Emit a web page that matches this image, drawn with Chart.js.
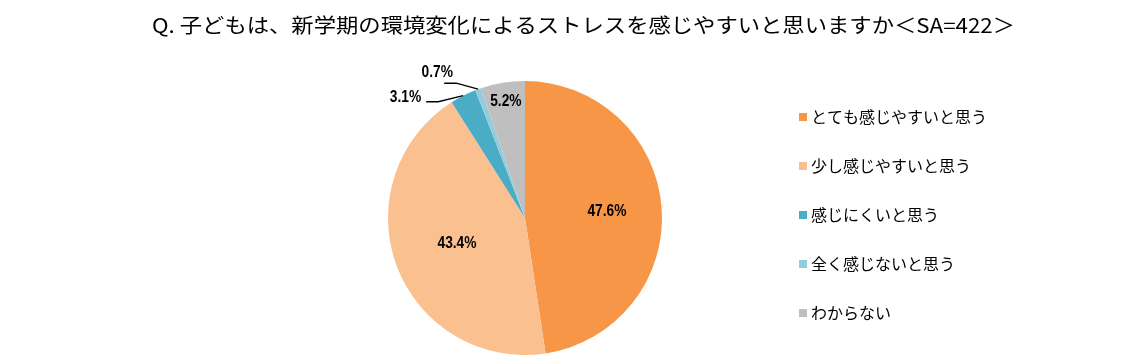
<!DOCTYPE html>
<html>
<head>
<meta charset="utf-8">
<script src="https://cdn.jsdelivr.net/npm/chart.js@4"></script>
<style>
  html, body { margin: 0; padding: 0; background: #fff; }
  #wrap { width: 1132px; height: 364px; position: relative; }
</style>
</head>
<body>
<div id="wrap"><canvas id="pie"></canvas></div>
<script>
const titleText = "Q. 子どもは、新学期の環境変化によるストレスを感じやすいと思いますか＜SA=422＞";
const categories = ["とても感じやすいと思う", "少し感じやすいと思う", "感じにくいと思う", "全く感じないと思う", "わからない"];
const shares = [47.6, 43.4, 3.1, 0.7, 5.2];
const colors = ["#F79646", "#FAC090", "#4BACC6", "#93CDDD", "#BFBFBF"];

const JP = '"Noto Sans CJK JP", "Noto Sans", sans-serif';

// label placement: inside labels use a radius fraction, outside ones get a leader line
const labelStyle = [
  { inside: 0.6 },
  { inside: 0.53 },
  { elbow: [-25, 6], text: [-42, 2], align: "right" },
  { elbow: [-22, -6], text: [-41, -17], align: "center" },
  { inside: 0.86 }
];

const titlePlugin = {
  id: "titleText",
  afterDraw(chart) {
    const ctx = chart.ctx;
    ctx.save();
    ctx.font = `20px ${JP}`;
    ctx.fillStyle = "#000";
    ctx.textBaseline = "middle";
    const w = ctx.measureText(titleText).width;
    const target = 863;
    ctx.translate(152, 25);
    ctx.scale(target / w, 1);
    ctx.textAlign = "left";
    ctx.fillText(titleText, 0, 0);
    ctx.restore();
  }
};

const legendPlugin = {
  id: "sideLegend",
  afterDraw(chart) {
    const ctx = chart.ctx;
    ctx.save();
    ctx.font = `16px ${JP}`;
    ctx.textBaseline = "middle";
    categories.forEach((c, i) => {
      const y = 117 + i * 49;
      ctx.fillStyle = colors[i];
      ctx.fillRect(799, y - 4, 8, 8);
      ctx.fillStyle = "#000";
      ctx.fillText(c, 811, y);
    });
    ctx.restore();
  }
};

// draw text a little narrower, like the condensed font of the original
function narrowText(ctx, txt, x, y, align) {
  const sx = 0.86;
  const w = ctx.measureText(txt).width * sx;
  let left = x;
  if (align === "center") left = x - w / 2;
  else if (align === "right") left = x - w;
  ctx.save();
  ctx.translate(left, y);
  ctx.scale(sx, 1);
  ctx.textAlign = "left";
  ctx.fillText(txt, 0, 0);
  ctx.restore();
}

const valuePlugin = {
  id: "values",
  afterDatasetsDraw(chart) {
    const ctx = chart.ctx;
    const meta = chart.getDatasetMeta(0);
    ctx.save();
    ctx.font = `bold 16px "Liberation Sans", Arial, sans-serif`;
    ctx.fillStyle = "#000";
    ctx.textBaseline = "middle";
    meta.data.forEach((arc, i) => {
      const p = arc.getProps(["x", "y", "startAngle", "endAngle", "outerRadius"], true);
      const mid = (p.startAngle + p.endAngle) / 2;
      const st = labelStyle[i];
      const txt = shares[i].toFixed(1) + "%";
      if (st.inside) {
        const r = p.outerRadius * st.inside;
        narrowText(ctx, txt, p.x + Math.cos(mid) * r, p.y + Math.sin(mid) * r, "center");
      } else {
        const ex = p.x + Math.cos(mid) * p.outerRadius;
        const ey = p.y + Math.sin(mid) * p.outerRadius;
        const bx = ex + st.elbow[0], by = ey + st.elbow[1];
        ctx.strokeStyle = "#000";
        ctx.lineWidth = 1.3;
        ctx.beginPath();
        ctx.moveTo(ex, ey);
        ctx.lineTo(bx, by);
        ctx.lineTo(bx - 12, by);
        ctx.stroke();
        narrowText(ctx, txt, ex + st.text[0], ey + st.text[1], st.align);
      }
    });
    ctx.restore();
  }
};

new Chart(document.getElementById("pie"), {
  type: "pie",
  data: {
    labels: categories,
    datasets: [{
      data: shares,
      backgroundColor: colors,
      borderWidth: 0
    }]
  },
  options: {
    responsive: true,
    maintainAspectRatio: false,
    animation: false,
    layout: { padding: { top: 81, bottom: 9, left: 388, right: 470 } },
    plugins: {
      legend: { display: false },
      tooltip: { enabled: false }
    }
  },
  plugins: [titlePlugin, legendPlugin, valuePlugin]
});
</script>
</body>
</html>
